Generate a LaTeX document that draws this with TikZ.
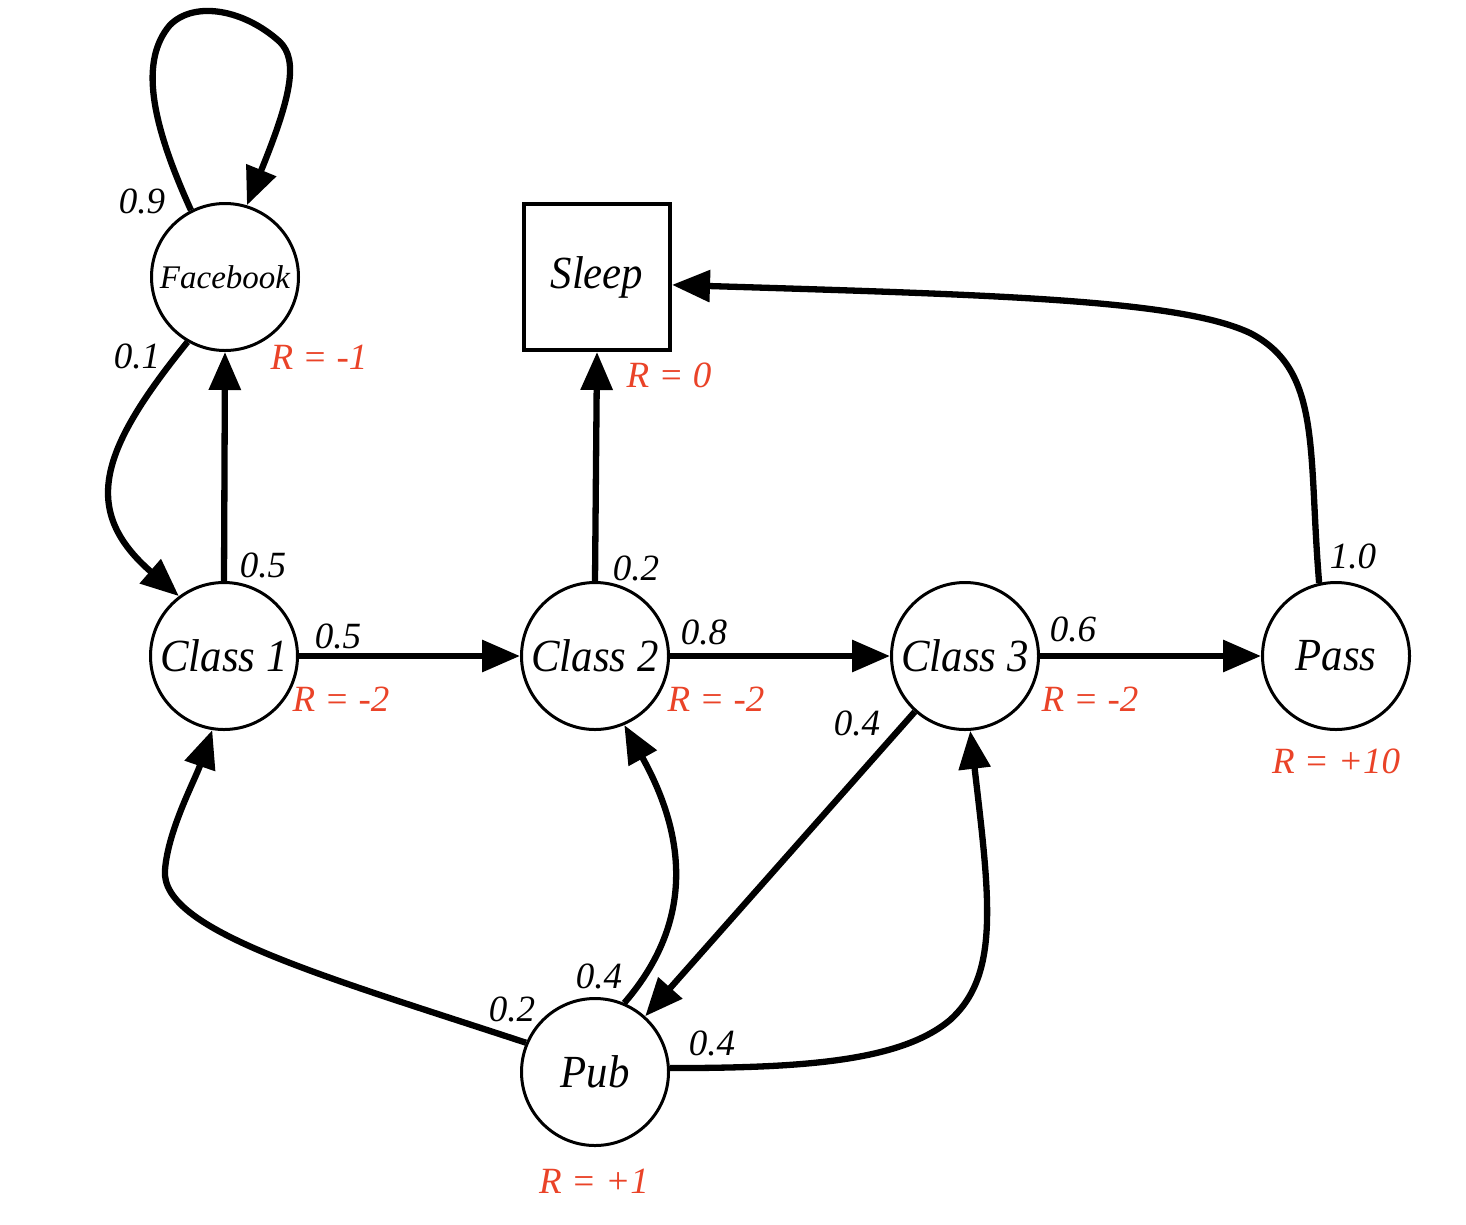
\documentclass[tikz,border=0pt]{standalone}
\usepackage{fontspec}
\newfontfamily\tmsit{Liberation Serif Italic}
\newfontfamily\tmsnar{Liberation Serif Italic}[FakeStretch=0.93]
\usetikzlibrary{arrows.meta}
\definecolor{rlab}{RGB}{234,67,40}
\begin{document}
\begin{tikzpicture}[x=1pt,y=-1pt,
  state/.style={circle,draw,line width=3pt,minimum size=147pt,inner sep=0pt,font=\fontsize{46}{50}\selectfont\tmsnar},
  termbox/.style={rectangle,draw,line width=4pt,minimum size=146pt,inner sep=0pt,font=\fontsize{46}{50}\selectfont\tmsnar},
  edge/.style={line width=6.3pt,-{Triangle[length=38pt,width=31pt]}},
  prob/.style={font=\fontsize{37}{40}\selectfont\tmsit},
  rew/.style={text=rlab,font=\fontsize{37}{40}\selectfont\tmsit}]
\useasboundingbox[fill=white] (0,0) rectangle (1466,1224);
% states
\node[state,font=\fontsize{33}{36}\selectfont\tmsit] (fb) at (225,277) {Facebook};
\node[state] (c1) at (224,656) {Class 1};
\node[state] (c2) at (595,656) {Class 2};
\node[state] (c3) at (965,656) {Class 3};
\node[state] (pass) at (1336,656) {Pass};
\node[state] (pub) at (595,1072) {Pub};
\node[termbox] (sleep) at (597,277) {Sleep};
% connectors
\draw[edge] (fb.117) .. controls (150,120) and (140,60) .. (170,25)
  .. controls (195,0) and (245,10) .. (280,42)
  .. controls (298,60) and (292,95) .. (fb.73);
\draw[edge] (fb.240) .. controls (100,450) and (80,510) .. (c1.127);
\draw[edge] (c1.north) -- (fb.south);
\draw[edge] (c1.east) -- (c2.west);
\draw[edge] (c2.north) -- (sleep.south);
\draw[edge] (c2.east) -- (c3.west);
\draw[edge] (c3.east) -- (pass.west);
\draw[edge] (pass.103) .. controls (1308,450) and (1322,370) .. (1250,333)
  .. controls (1180,300) and (1000,295) .. (sleep.-6);
\draw[edge] (c3.228) -- (pub.48);
\draw[edge] (pub.157) .. controls (320,975) and (160,930) .. (165,870)
  .. controls (168,830) and (195,780) .. (c1.261);
\draw[edge] (pub.67) .. controls (670,950) and (705,870) .. (c2.293);
\draw[edge] (pub.3) .. controls (800,1068) and (900,1062) .. (950,1020)
  .. controls (1000,975) and (990,900) .. (c3.274);
% probabilities
\node[prob] (p09) at (142,201) {0.9};
\node[prob] (p01) at (137,356) {0.1};
\node[prob] (p05a) at (263,565) {0.5};
\node[prob] (p05b) at (338,636) {0.5};
\node[prob] (p02s) at (636,568) {0.2};
\node[prob] (p08) at (704,632) {0.8};
\node[prob] (p06) at (1073,629) {0.6};
\node[prob] (p04c) at (857,723) {0.4};
\node[prob] (p10) at (1353,556) {1.0};
\node[prob] (p04a) at (599,976) {0.4};
\node[prob] (p02p) at (512,1009) {0.2};
\node[prob] (p04b) at (712,1043) {0.4};
% rewards
\node[rew] (rfb) at (319,357) {R = -1};
\node[rew] (rsl) at (669,375) {R = 0};
\node[rew] (rc1) at (341,699) {R = -2};
\node[rew] (rc2) at (716,699) {R = -2};
\node[rew] (rc3) at (1090,699) {R = -2};
\node[rew] (rps) at (1336,761) {R = +10};
\node[rew] (rpb) at (594,1181) {R = +1};
\end{tikzpicture}
\end{document}
